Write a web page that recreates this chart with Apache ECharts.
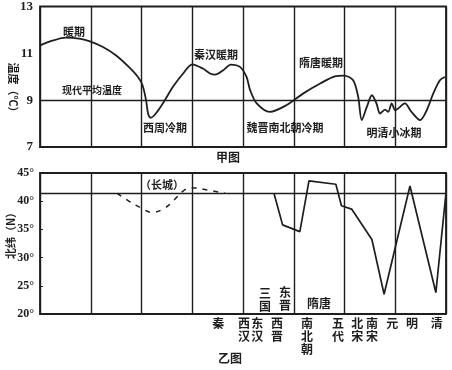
<!DOCTYPE html>
<html><head><meta charset="utf-8">
<script src="https://cdn.jsdelivr.net/npm/echarts@6/dist/echarts.min.js"></script>
<style>html,body{margin:0;padding:0;background:#fff}#c{width:452px;height:370px}</style>
</head><body><div id="c"></div>
<script>
// 甲图: temperature curve (x = period index on the time axis)
const tempPos = [0.00,0.26,0.51,0.77,0.97,1.24,1.50,1.75,1.93,2.02,2.09,2.13,2.18,2.27,2.42,2.62,2.82,3.00,3.21,3.35,3.45,3.61,3.76,3.94,4.07,4.14,4.27,4.53,4.86,5.19,5.52,5.81,5.99,6.17,6.27,6.34,6.44,6.54,6.63,6.70,6.80,6.86,6.93,7.00,7.06,7.19,7.32,7.49,7.62,7.75,7.88,7.98];
const tempVal = [11.34,11.55,11.67,11.63,11.52,11.27,10.91,10.42,9.99,9.64,9.0,8.43,8.25,8.4,8.86,9.57,10.14,10.53,10.35,10.14,10.09,10.28,10.52,10.42,9.99,9.43,8.86,8.5,8.79,9.29,9.71,10.02,10.05,9.85,9.14,8.15,8.71,9.21,8.86,8.43,8.6,8.5,8.86,8.57,8.65,8.86,8.5,8.15,8.57,9.29,9.85,9.99];
const modernMean = 9;
const tempTicks = [7, 9, 11, 13];

// 乙图: northern boundary latitude
const latPos = [4.61,4.78,5.12,5.30,5.83,5.94,6.14,6.54,6.78,7.29,7.80,8.00];
const latVal = [41.4,35.8,34.6,43.6,43.0,39.2,38.6,33.2,23.5,42.7,23.8,41.5];
const wallPos = [1.52,1.77,1.99,2.21,2.46,2.64,2.82,2.96,3.29,3.65];
const wallVal = [41.4,39.9,38.8,38.0,38.8,40.2,41.8,42.4,42.0,41.4];
const wallLat = 41.4;
const latTicks = [20, 25, 30, 35, 40, 45];

const dynNames = ['秦','西汉','东汉','西晋','南北朝','五代','北宋','南宋','元','明','清'];
const dynPos = [3.51,4.02,4.28,4.67,5.26,5.87,6.25,6.54,6.94,7.33,7.82];

const ink = '#1e1e1e';
const cjk = '"Noto Sans CJK SC", sans-serif';
const serif = '"Liberation Serif", "DejaVu Serif", serif';

const chart = echarts.init(document.getElementById('c'), null, {renderer: 'canvas'});

function pair(xs, ys) { return xs.map((x, i) => [x, ys[i]]); }

function txt(text, x, y, size, rot) {
  return {type: 'text', x: x, y: y, rotation: rot || 0,
    style: {text: text, fill: ink, align: 'center', verticalAlign: 'middle',
      font: 'bold ' + size + 'px ' + cjk, lineHeight: 13}};
}

chart.setOption({
  backgroundColor: '#fff',
  animation: false,
  grid: [
    {left: 40, right: 6, top: 6, height: 141, show: true, borderColor: ink, borderWidth: 1.8, backgroundColor: 'transparent'},
    {left: 40, right: 6, top: 173, height: 141, show: true, borderColor: ink, borderWidth: 1.8, backgroundColor: 'transparent'}
  ],
  xAxis: [
    {gridIndex: 0, type: 'value', min: 0, max: 8, interval: 1,
      axisLine: {show: false}, axisTick: {show: false}, axisLabel: {show: false},
      splitLine: {show: true, lineStyle: {color: ink, width: 1.4}}},
    {gridIndex: 1, type: 'value', min: 0, max: 8, interval: 1,
      axisLine: {show: false}, axisTick: {show: false},
      axisLabel: {show: true, customValues: dynPos, margin: 3, color: ink,
        fontFamily: cjk, fontWeight: 'bold', fontSize: 12, lineHeight: 13, verticalAlign: 'top',
        formatter: function (v) {
          const i = dynPos.findIndex(p => Math.abs(p - v) < 1e-6);
          return i < 0 ? '' : dynNames[i].split('').join('\n');
        }},
      splitLine: {show: true, lineStyle: {color: ink, width: 1.4}}}
  ],
  yAxis: [
    {gridIndex: 0, type: 'value', min: 7, max: 13, interval: 1,
      axisLine: {show: false}, axisTick: {show: false}, splitLine: {show: false},
      axisLabel: {margin: 7, color: ink, fontFamily: serif, fontWeight: 'bold', fontSize: 13,
        formatter: v => tempTicks.indexOf(v) >= 0 ? String(v) : ''}},
    {gridIndex: 1, type: 'value', min: 20, max: 45, interval: 5,
      axisLine: {show: false}, splitLine: {show: false},
      axisTick: {show: true, inside: true, length: 3, lineStyle: {color: ink}},
      axisLabel: {margin: 6, color: ink, fontFamily: serif, fontWeight: 'bold', fontSize: 12,
        formatter: v => latTicks.indexOf(v) >= 0 ? v + '°' : ''}}
  ],
  series: [
    {type: 'line', xAxisIndex: 0, yAxisIndex: 0, data: pair(tempPos, tempVal),
      smooth: 0.3, showSymbol: false, lineStyle: {color: ink, width: 1.8},
      markLine: {silent: true, symbol: 'none', label: {show: false},
        lineStyle: {color: ink, type: 'solid', width: 1.3}, data: [{yAxis: modernMean}]}},
    {type: 'line', xAxisIndex: 1, yAxisIndex: 1, data: pair(wallPos, wallVal),
      smooth: 0.4, showSymbol: false, lineStyle: {color: ink, width: 1.5, type: [5, 6]},
      markLine: {silent: true, symbol: 'none', label: {show: false},
        lineStyle: {color: ink, type: 'solid', width: 1.3}, data: [{yAxis: wallLat}]}},
    {type: 'line', xAxisIndex: 1, yAxisIndex: 1, data: pair(latPos, latVal),
      showSymbol: false, lineStyle: {color: ink, width: 1.7}}
  ],
  graphic: [
    txt('温度（℃）', 13, 90, 11, -Math.PI / 2),
    txt('北纬（N）', 11, 233, 11, Math.PI / 2),
    txt('暖期', 74, 32, 11),
    txt('现代平均温度', 92, 90, 10),
    txt('西周冷期', 165, 128, 11),
    txt('秦汉暖期', 216, 55, 11),
    txt('隋唐暖期', 321, 63, 11),
    txt('魏晋南北朝冷期', 285, 128, 11),
    txt('明清小冰期', 394, 133, 11),
    txt('甲图', 228, 157, 12),
    txt('（长城）', 162, 185, 11),
    txt('三\n国', 265, 300, 12),
    txt('东\n晋', 285, 299, 12),
    txt('隋唐', 319, 303, 12),
    txt('乙图', 230, 358, 12)
  ]
});
</script></body></html>
